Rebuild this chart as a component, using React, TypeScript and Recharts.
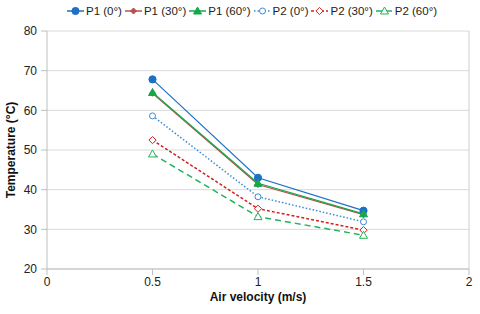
import React from "react";
import {
  CartesianGrid,
  Line,
  LineChart,
  ReferenceLine,
  XAxis,
  YAxis,
} from "recharts";

const velocity = [0.5, 1, 1.5];
const p1At0 = [67.8, 43.0, 34.7];
const p1At30 = [64.3, 41.3, 33.7];
const p1At60 = [64.5, 41.6, 33.9];
const p2At0 = [58.6, 38.2, 31.9];
const p2At30 = [52.5, 35.2, 29.8];
const p2At60 = [49.0, 33.2, 28.5];

const xTicks = [0, 0.5, 1, 1.5, 2];
const yTicks = [20, 30, 40, 50, 60, 70, 80];

const data = velocity.map((v, i) => ({
  v,
  p1a: p1At0[i],
  p1b: p1At30[i],
  p1c: p1At60[i],
  p2a: p2At0[i],
  p2b: p2At30[i],
  p2c: p2At60[i],
}));

type Shape = "circle" | "diamond" | "triangle";

type SeriesDef = {
  key: string;
  name: string;
  color: string;
  dash?: string;
  shape: Shape;
  filled: boolean;
};

const series: SeriesDef[] = [
  { key: "p1a", name: "P1 (0°)", color: "#1f6fc5", shape: "circle", filled: true },
  { key: "p1b", name: "P1 (30°)", color: "#b8504b", shape: "diamond", filled: true },
  { key: "p1c", name: "P1 (60°)", color: "#14a84a", shape: "triangle", filled: true },
  { key: "p2a", name: "P2 (0°)", color: "#3a8ad8", dash: "1.5 2", shape: "circle", filled: false },
  { key: "p2b", name: "P2 (30°)", color: "#d22020", dash: "3 2", shape: "diamond", filled: false },
  { key: "p2c", name: "P2 (60°)", color: "#22b35a", dash: "6 4", shape: "triangle", filled: false },
];

const font = "'Liberation Sans', Arial, sans-serif";

function Marker({ cx, cy, s }: { cx: number; cy: number; s: SeriesDef }) {
  const fill = s.filled ? s.color : "#fff";
  const sw = 1;
  if (s.shape === "circle") {
    return <circle cx={cx} cy={cy} r={s.filled ? 3.6 : 3} fill={fill} stroke={s.color} strokeWidth={sw} />;
  }
  if (s.shape === "diamond") {
    const r = s.filled ? 3 : 3.6;
    return (
      <polygon
        points={`${cx},${cy - r} ${cx + r},${cy} ${cx},${cy + r} ${cx - r},${cy}`}
        fill={fill}
        stroke={s.color}
        strokeWidth={sw}
      />
    );
  }
  const r = 4;
  return (
    <polygon
      points={`${cx},${cy - r} ${cx + r},${cy + r * 0.75} ${cx - r},${cy + r * 0.75}`}
      fill={fill}
      stroke={s.color}
      strokeWidth={sw}
    />
  );
}

function ChartLegend() {
  return (
    <div
      style={{
        position: "absolute",
        top: 4,
        left: 67,
        display: "flex",
        alignItems: "center",
        fontFamily: font,
        fontSize: 11.5,
        lineHeight: "14px",
        color: "#222",
        whiteSpace: "nowrap",
      }}
    >
      {series.map((s) => (
        <div key={s.key} style={{ display: "flex", alignItems: "center", marginRight: 3 }}>
          <svg width={17} height={10} style={{ marginRight: 2 }}>
            <line x1={0} y1={5} x2={17} y2={5} stroke={s.color} strokeWidth={1.5} strokeDasharray={s.dash} />
            <Marker cx={8.5} cy={5} s={s} />
          </svg>
          <span>{s.name}</span>
        </div>
      ))}
    </div>
  );
}

export default function App() {
  return (
    <div style={{ position: "absolute", left: 0, top: 0, width: 480, height: 314, background: "#fff" }}>
      <LineChart
        width={480}
        height={314}
        data={data}
        margin={{ top: 31, right: 11, bottom: 0, left: 0 }}
        style={{ fontFamily: font }}
      >
        <CartesianGrid vertical={false} stroke="#d9d9d9" />
        <ReferenceLine x={2} stroke="#d0d0d0" />
        <XAxis
          dataKey="v"
          type="number"
          domain={[0, 2]}
          ticks={xTicks}
          height={45}
          stroke="#bfbfbf"
          tickSize={6}
          tickMargin={2}
          tick={{ fill: "#222", fontSize: 12 }}
          label={{
            value: "Air velocity (m/s)",
            position: "insideBottom",
            offset: 13,
            fill: "#111",
            fontSize: 12,
            fontWeight: "bold",
          }}
        />
        <YAxis
          type="number"
          domain={[20, 80]}
          ticks={yTicks}
          width={47}
          stroke="#bfbfbf"
          tickSize={6}
          tickMargin={4}
          tick={{ fill: "#222", fontSize: 12 }}
          label={{
            value: "Temperature (°C)",
            angle: -90,
            position: "insideLeft",
            offset: 11,
            style: { textAnchor: "middle" },
            fill: "#111",
            fontSize: 12,
            fontWeight: "bold",
          }}
        />
        {series.map((s) => (
          <Line
            key={s.key}
            dataKey={s.key}
            name={s.name}
            type="linear"
            stroke={s.color}
            strokeWidth={s.filled ? 1.2 : 1.5}
            strokeDasharray={s.dash}
            isAnimationActive={false}
            dot={(p: any) => <Marker key={`${s.key}-${p.index}`} cx={p.cx} cy={p.cy} s={s} />}
            activeDot={false}
          />
        ))}
      </LineChart>
      <ChartLegend />
    </div>
  );
}
